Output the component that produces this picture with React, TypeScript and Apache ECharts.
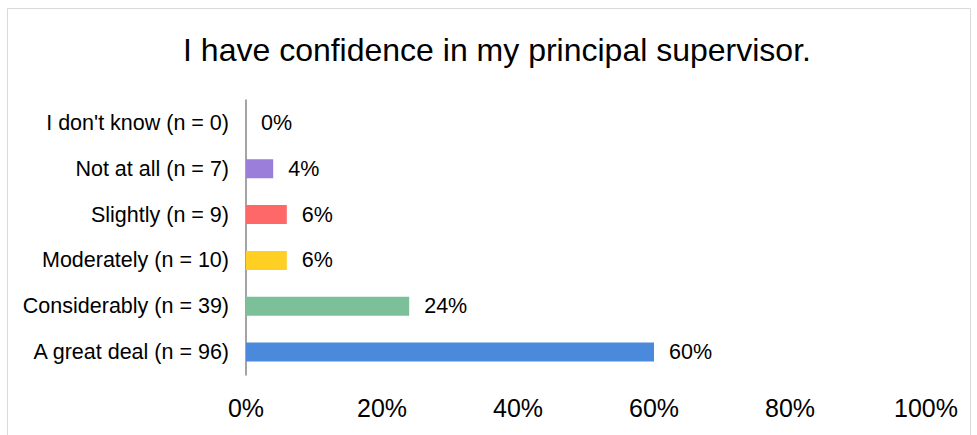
import React, { useEffect, useRef } from "react";
import * as echarts from "echarts";

const categories = [
  "A great deal (n = 96)",
  "Considerably (n = 39)",
  "Moderately (n = 10)",
  "Slightly (n = 9)",
  "Not at all (n = 7)",
  "I don't know (n = 0)",
];
const values = [60, 24, 6, 6, 4, 0];
const colors = ["#4a89dc", "#7cc09a", "#ffcf24", "#ff6868", "#9b7ed9", "#bbbbbb"];
const title = "I have confidence in my principal supervisor.";

export default function App() {
  const ref = useRef<HTMLDivElement>(null);
  useEffect(() => {
    if (!ref.current) return;
    const chart = echarts.init(ref.current, undefined, { renderer: "svg" });
    const font = "Liberation Sans, Arial, sans-serif";
    chart.setOption({
      animation: false,
      backgroundColor: "#ffffff",
      title: {
        text: title,
        left: 492,
        textAlign: "center",
        top: 29,
        textStyle: { fontFamily: font, fontSize: 32, fontWeight: "normal", color: "#000" },
      },
      graphic: [
        {
          type: "rect",
          shape: { x: 7.5, y: 8.5, width: 963, height: 440 },
          style: { fill: "none", stroke: "#d9d9d9", lineWidth: 1 },
          silent: true,
        },
      ],
      grid: { left: 246, right: 51, top: 100, bottom: 60, containLabel: false },
      xAxis: {
        type: "value",
        min: 0,
        max: 100,
        interval: 20,
        axisLine: { show: false },
        axisTick: { show: false },
        splitLine: { show: false },
        axisLabel: {
          formatter: "{value}%",
          fontFamily: font,
          fontSize: 25,
          color: "#000",
          margin: 20,
        },
      },
      yAxis: {
        type: "category",
        data: categories,
        axisLine: { show: true, lineStyle: { color: "#868686", width: 1.5 } },
        axisTick: { show: false },
        axisLabel: { fontFamily: font, fontSize: 21.5, color: "#000", margin: 17 },
      },
      series: [
        {
          type: "bar",
          data: values.map((v, i) => ({ value: v, itemStyle: { color: colors[i] } })),
          barWidth: 19,
          label: {
            show: true,
            position: "right",
            distance: 15,
            formatter: "{c}%",
            fontFamily: font,
            fontSize: 21.5,
            color: "#000",
          },
        },
      ],
    });
    return () => chart.dispose();
  }, []);
  return (
    <div
      ref={ref}
      style={{ position: "fixed", left: 0, top: 0, width: 977, height: 435 }}
    />
  );
}
